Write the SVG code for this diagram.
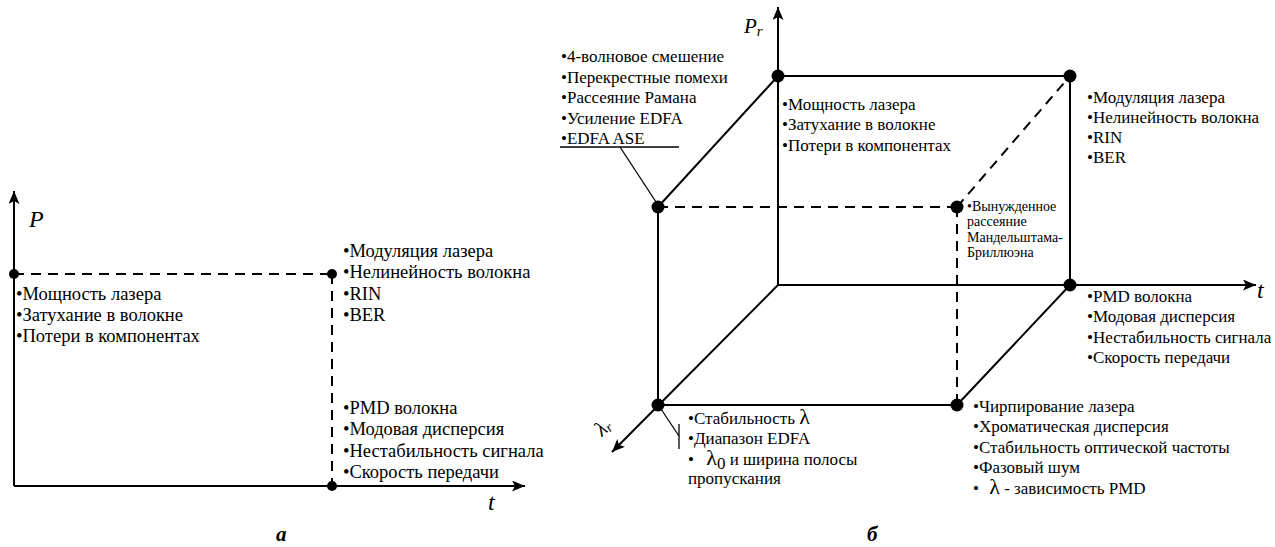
<svg xmlns="http://www.w3.org/2000/svg" width="1275" height="547" viewBox="0 0 1275 547" font-family="'Liberation Serif', 'DejaVu Serif', serif">
<defs>
<marker id="arr" markerUnits="userSpaceOnUse" markerWidth="14" markerHeight="12" refX="13" refY="5.5" orient="auto">
<path d="M0,0 L13,5.5 L0,11 L3,5.5 z" fill="#000"/>
</marker>
<style>
.ax{stroke:#000;stroke-width:2;fill:none}
.ds{stroke:#000;stroke-width:2;fill:none;stroke-dasharray:10 7}
.ld{stroke:#000;stroke-width:1.3;fill:none}
.dot{fill:#000}
text{font-family:'Liberation Serif','DejaVu Serif',serif;fill:#000}
.l{font-size:18.5px}
.r{font-size:17px}
.s{font-size:14px}
.ax-lab{font-style:italic;font-size:21px}
.big{font-size:24px}
.cap{font-style:italic;font-weight:bold;font-size:21px}
.lam{font-size:22px}
</style>
</defs>
<rect width="1275" height="547" fill="#fff"/>

<g id="connectors">
<line class="ax" x1="14" y1="486" x2="14" y2="191" marker-end="url(#arr)"/>
<line class="ax" x1="14" y1="486" x2="525" y2="486" marker-end="url(#arr)"/>
<line class="ds" x1="14" y1="274" x2="332" y2="274"/>
<line class="ds" x1="332" y1="274" x2="332" y2="486"/>
<line class="ax" x1="778" y1="285" x2="778" y2="7" marker-end="url(#arr)"/>
<line class="ax" x1="778" y1="285" x2="1256" y2="285" marker-end="url(#arr)"/>
<line class="ax" x1="778" y1="285" x2="612" y2="452" marker-end="url(#arr)"/>
<line class="ax" x1="778" y1="76" x2="1070" y2="76"/>
<line class="ax" x1="1070" y1="76" x2="1070" y2="285"/>
<line class="ax" x1="658" y1="207" x2="778" y2="76"/>
<line class="ax" x1="658" y1="207" x2="658" y2="405"/>
<line class="ax" x1="658" y1="405" x2="957" y2="405"/>
<line class="ax" x1="957" y1="405" x2="1070" y2="285"/>
<line class="ds" x1="658" y1="207" x2="957" y2="207"/>
<line class="ds" x1="957" y1="207" x2="957" y2="405"/>
<line class="ds" x1="957" y1="207" x2="1070" y2="76"/>
<line class="ld" x1="560" y1="147" x2="679" y2="147"/>
<line class="ld" x1="620" y1="147" x2="658" y2="205"/>
<line class="ld" x1="661" y1="409" x2="679" y2="436"/>
<line class="ld" x1="679" y1="424" x2="679" y2="449"/>
</g>

<g id="points">
<circle class="dot" cx="14" cy="274" r="5"/>
<circle class="dot" cx="332" cy="274" r="5"/>
<circle class="dot" cx="332" cy="486" r="5"/>
<circle class="dot" cx="778" cy="76" r="6.5"/>
<circle class="dot" cx="1070" cy="76" r="6.5"/>
<circle class="dot" cx="658" cy="207" r="6.5"/>
<circle class="dot" cx="957" cy="207" r="6.5"/>
<circle class="dot" cx="1070" cy="285" r="6.5"/>
<circle class="dot" cx="658" cy="405" r="6.5"/>
<circle class="dot" cx="957" cy="405" r="6.5"/>
</g>

<g id="axis-labels">
<text class="ax-lab big" x="29" y="227">P</text>
<text class="ax-lab big" x="488" y="510">t</text>
<text class="ax-lab" x="744" y="33">P<tspan font-size="15" dy="3">r</tspan></text>
<text class="ax-lab big" x="1257" y="298">t</text>
<text class="ax-lab" transform="translate(602,437) rotate(-42)">λ<tspan font-size="14" dy="2">r</tspan></text>
</g>

<g id="captions">
<text class="cap" x="276" y="541">а</text>
<text class="cap" x="867" y="541">б</text>
</g>

<g id="left-origin-labels">
<text class="l" x="16" y="300">•Мощность лазера</text>
<text class="l" x="16" y="321">•Затухание в волокне</text>
<text class="l" x="16" y="342">•Потери в компонентах</text>
</g>

<g id="left-top-labels">
<text class="l" x="343" y="257">•Модуляция лазера</text>
<text class="l" x="343" y="278">•Нелинейность волокна</text>
<text class="l" x="343" y="300">•RIN</text>
<text class="l" x="343" y="321">•BER</text>
</g>

<g id="left-bottom-labels">
<text class="l" x="343" y="414">•PMD волокна</text>
<text class="l" x="343" y="435">•Модовая дисперсия</text>
<text class="l" x="343" y="457">•Нестабильность сигнала</text>
<text class="l" x="343" y="478">•Скорость передачи</text>
</g>

<g id="right-front-top-labels">
<text class="r" x="561" y="62">•4-волновое смешение</text>
<text class="r" x="561" y="83">•Перекрестные помехи</text>
<text class="r" x="561" y="103">•Рассеяние Рамана</text>
<text class="r" x="561" y="124">•Усиление EDFA</text>
<text class="r" x="561" y="144">•EDFA ASE</text>
</g>

<g id="right-back-top-labels">
<text class="r" x="782" y="110">•Мощность лазера</text>
<text class="r" x="782" y="130">•Затухание в волокне</text>
<text class="r" x="782" y="151">•Потери в компонентах</text>
</g>

<g id="right-back-right-labels">
<text class="r" x="1087" y="103">•Модуляция лазера</text>
<text class="r" x="1087" y="123">•Нелинейность волокна</text>
<text class="r" x="1087" y="143">•RIN</text>
<text class="r" x="1087" y="163">•BER</text>
</g>

<g id="right-sbs-label">
<text class="s" x="967" y="211">•Вынужденное</text>
<text class="s" x="967" y="226">рассеяние</text>
<text class="s" x="967" y="242">Мандельштама-</text>
<text class="s" x="967" y="257">Бриллюэна</text>
</g>

<g id="right-t-labels">
<text class="r" x="1087" y="302">•PMD волокна</text>
<text class="r" x="1087" y="322">•Модовая дисперсия</text>
<text class="r" x="1087" y="343">•Нестабильность сигнала</text>
<text class="r" x="1087" y="363">•Скорость передачи</text>
</g>

<g id="right-lambda-labels">
<text class="r" x="688" y="424">•Стабильность <tspan class="lam">λ</tspan></text>
<text class="r" x="688" y="444">•Диапазон EDFA</text>
<text class="r" x="688" y="465">• <tspan class="lam" dx="8">λ</tspan><tspan dy="4">0</tspan><tspan dy="-4"> и ширина полосы</tspan></text>
<text class="r" x="688" y="484">пропускания</text>
</g>

<g id="right-front-right-labels">
<text class="r" x="973" y="412">•Чирпирование лазера</text>
<text class="r" x="973" y="432">•Хроматическая дисперсия</text>
<text class="r" x="973" y="453">•Стабильность оптической частоты</text>
<text class="r" x="973" y="473">•Фазовый шум</text>
<text class="r" x="973" y="494">• <tspan class="lam" dx="6">λ</tspan> - зависимость PMD</text>
</g>
</svg>
